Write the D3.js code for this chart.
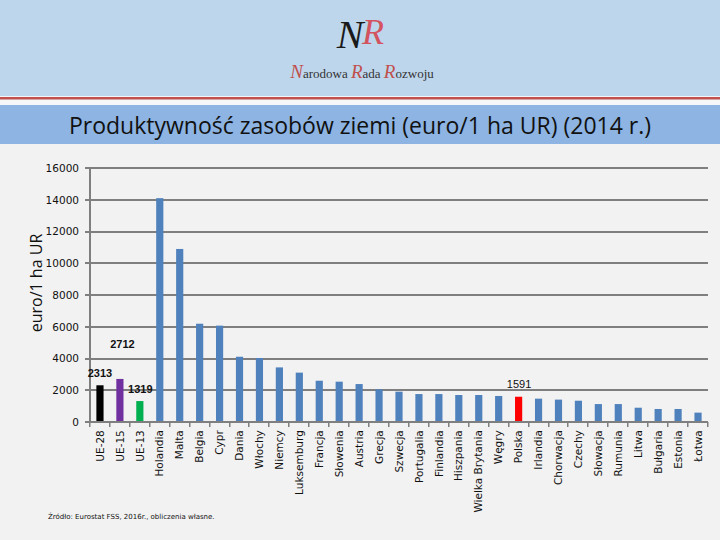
<!DOCTYPE html>
<html><head><meta charset="utf-8">
<script src="https://cdn.jsdelivr.net/npm/d3@7"></script>
<style>html,body{margin:0;padding:0;background:#f2f2f2;overflow:hidden;}svg{display:block;}</style>
</head><body>
<script>
const categories = ["UE-28","UE-15","UE-13","Holandia","Malta","Belgia","Cypr","Dania","Włochy","Niemcy","Luksemburg","Francja","Słowenia","Austria","Grecja","Szwecja","Portugalia","Finlandia","Hiszpania","Wielka Brytania","Węgry","Polska","Irlandia","Chorwacja","Czechy","Słowacja","Rumunia","Litwa","Bułgaria","Estonia","Łotwa"];
const values = [2313,2712,1319,14100,10900,6190,6070,4110,4030,3440,3110,2600,2540,2390,2060,1910,1760,1760,1700,1700,1640,1591,1470,1410,1340,1130,1130,900,820,820,590];
const barColors = {"UE-28":"#000000","UE-15":"#7030a0","UE-13":"#00b050","Polska":"#ff0000"};
const yTicks = [0,2000,4000,6000,8000,10000,12000,14000,16000];
const labeled = [
  {cat:"UE-28", text:"2313", dx:0, dy:-8, bold:true},
  {cat:"UE-15", text:"2712", dx:2.5, dy:-31, bold:true},
  {cat:"UE-13", text:"1319", dx:0.5, dy:-8, bold:true},
  {cat:"Polska", text:"1591", dx:0.5, dy:-9, bold:false}
];
const W=720,H=540;
const svg=d3.select("body").append("svg").attr("width",W).attr("height",H);
const bgL=svg.append("g"), gridL=svg.append("g"), barL=svg.append("g"), txtL=svg.append("g");
bgL.append("rect").attr("x",0).attr("y",0).attr("width",W).attr("height",96).attr("fill","#bed6ec");
bgL.append("rect").attr("x",0).attr("y",96).attr("width",W).attr("height",9).attr("fill","#f4f6f8");
bgL.append("rect").attr("x",0).attr("y",97).attr("width",W).attr("height",2.5).attr("fill","#c0504d");
bgL.append("rect").attr("x",0).attr("y",105).attr("width",W).attr("height",39).attr("fill","#8db4e2");
const lg=txtL.append("g");
lg.append("text").attr("x",350).attr("y",48).attr("font-family","Liberation Serif, serif").attr("font-style","italic").attr("font-size",40).attr("fill","#1a1a1a").attr("text-anchor","middle").text("N");
lg.append("text").attr("x",373).attr("y",44).attr("font-family","Liberation Serif, serif").attr("font-style","italic").attr("font-size",36).attr("fill","#d64550").attr("text-anchor","middle").attr("opacity",0.9).text("R");
const t2=lg.append("text").attr("x",362).attr("y",78).attr("font-family","Liberation Serif, serif").attr("font-size",13).attr("fill","#333").attr("text-anchor","middle");
t2.append("tspan").attr("font-style","italic").attr("font-size",19).attr("fill","#c0504d").text("N");
t2.append("tspan").text("arodowa ");
t2.append("tspan").attr("font-style","italic").attr("font-size",19).attr("fill","#c0504d").text("R");
t2.append("tspan").text("ada ");
t2.append("tspan").attr("font-style","italic").attr("font-size",19).attr("fill","#c0504d").text("R");
t2.append("tspan").text("ozwoju");
txtL.append("text").attr("x",360).attr("y",134).attr("text-anchor","middle").attr("font-family","Open Sans, Noto Sans, sans-serif").attr("font-size",23).attr("fill","#111").text("Produktywność zasobów ziemi (euro/1 ha UR) (2014 r.)");

const m={l:90,r:708,t:168,b:422};
const x=d3.scaleBand().domain(categories).range([m.l,m.r]).paddingInner(0.64).paddingOuter(0.32);
const y=d3.scaleLinear().domain([0,16000]).range([m.b,m.t]);
const gridC="#7f7f7f";
// gridlines as one filled path
const gp=d3.path();
yTicks.forEach(d=>{const yy=Math.round(y(d))-1; gp.rect(m.l-5,yy,m.r-m.l+5,2);});
gp.rect(m.l-1,m.t,2,m.b-m.t+1);
const step=x.step();
d3.range(categories.length+1).forEach(i=>gp.rect(Math.round(m.l+i*step)-1,m.b,1.5,5));
gridL.append("path").attr("d",gp.toString()).attr("fill",gridC);
const ya=txtL.append("g").attr("transform",`translate(${m.l},0)`).call(d3.axisLeft(y).tickValues(yTicks).tickSize(0).tickPadding(11).tickFormat(d3.format("d")));
ya.select(".domain").remove();
ya.selectAll("text").attr("font-family","Verdana, DejaVu Sans, sans-serif").attr("font-size",10.5).attr("fill","#111");
barL.selectAll("rect").data(categories).join("rect")
  .attr("x",d=>x(d)).attr("width",x.bandwidth())
  .attr("y",(d,i)=>y(values[i])).attr("height",(d,i)=>y(0)-y(values[i])-1)
  .attr("fill",d=>barColors[d]||"#4f81bd");
const xa=txtL.append("g").attr("transform",`translate(0,${m.b})`).call(d3.axisBottom(x).tickSize(0).tickPadding(6));
xa.select(".domain").remove();
xa.selectAll("text").attr("font-family","Verdana, DejaVu Sans, sans-serif").attr("font-size",10.5).attr("fill","#111")
  .attr("transform","rotate(-90)").attr("text-anchor","end").attr("dx","-0.4em").attr("dy","0.35em").attr("x",-4).attr("y",0);
txtL.append("g").selectAll("text").data(labeled).join("text")
  .attr("x",d=>x(d.cat)+x.bandwidth()/2+d.dx)
  .attr("y",d=>y(values[categories.indexOf(d.cat)])+d.dy)
  .attr("text-anchor","middle").attr("font-family","Liberation Sans, Arial, sans-serif").attr("font-size",11)
  .attr("font-weight",d=>d.bold?"bold":"normal").attr("fill","#111").text(d=>d.text);
txtL.append("text").attr("transform","translate(42,283) rotate(-90)").attr("text-anchor","middle")
  .attr("font-family","Open Sans, Noto Sans, sans-serif").attr("font-size",16).attr("fill","#111").text("euro/1 ha UR");
txtL.append("text").attr("x",48).attr("y",519).attr("font-family","Verdana, DejaVu Sans, sans-serif").attr("font-size",7).attr("fill","#111").text("Źródło: Eurostat FSS,  2016r., obliczenia własne.");
</script>
</body></html>
